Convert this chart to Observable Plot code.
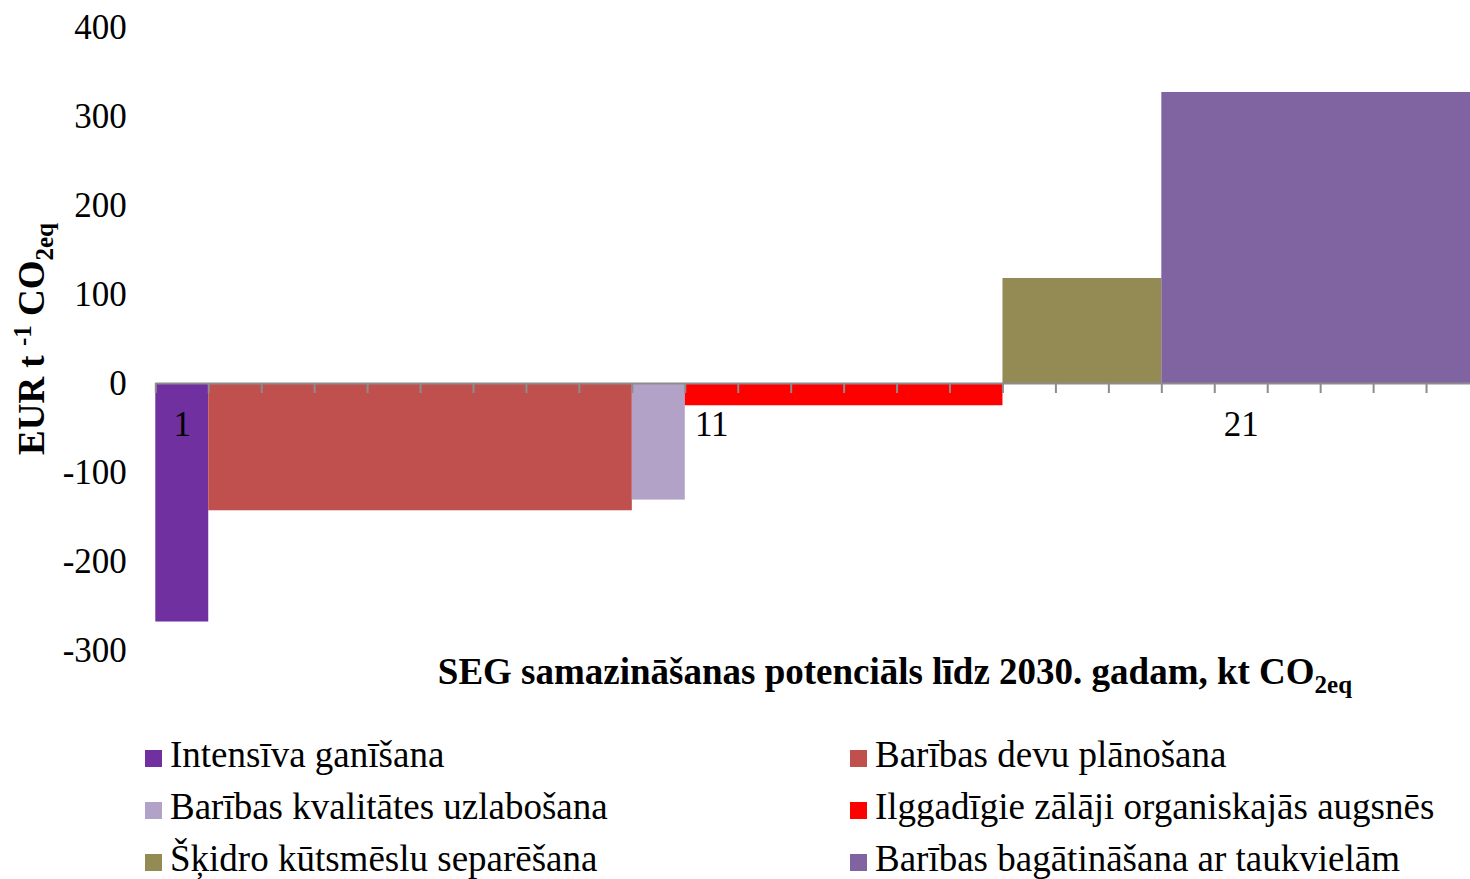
<!DOCTYPE html>
<html><head><meta charset="utf-8">
<script src="https://cdn.jsdelivr.net/npm/d3@7"></script>
<script src="https://cdn.jsdelivr.net/npm/@observablehq/plot@0.6"></script>
<style>
html,body{margin:0;padding:0;background:#fff;overflow:hidden;}
#legend{display:grid;grid-template-columns:705px auto;padding-left:145px;font-family:'Liberation Serif','Times New Roman',serif;font-size:37px;line-height:52px;color:#000;}
.item{display:flex;align-items:center;white-space:nowrap;}
.sw{width:17px;height:17px;margin-right:8px;position:relative;top:3px;flex:none;}
</style></head><body>
<div id="chart"></div><div id="legend"></div>
<script>
// Measures (in order along the curve)
const measures = [
  "Intensīva ganīšana",
  "Barības devu plānošana",
  "Barības kvalitātes uzlabošana",
  "Ilggadīgie zālāji organiskajās augsnēs",
  "Šķidro kūtsmēslu separēšana",
  "Barības bagātināšana ar taukvielām"
];
// abatement potential (width, kt CO2eq) and cost (EUR per t CO2eq)
const potentials = [1, 8, 1, 6, 3, 6];
const costs = [-268, -143, -131, -25, 118, 327];
const colors = ["#7030A0", "#C0504D", "#B3A2C7", "#FF0000", "#948A54", "#8064A2"];
const yTicks = [-300, -200, -100, 0, 100, 200, 300, 400];
const xTickLabels = [1, 11, 21];
const xTicks = d3.range(0, 26);
const xTitle = "SEG samazināšanas potenciāls līdz 2030. gadam, kt CO2eq";
const yTitle = "EUR t -1 CO2eq";

const ends = d3.cumsum(potentials);
const bars = measures.map((m, i) => ({measure: m, x1: ends[i] - potentials[i], x2: ends[i], cost: costs[i], color: colors[i]}));

const font = "'Liberation Serif','Times New Roman',serif";
const plot = Plot.plot({
  width: 1470, height: 729,
  marginLeft: 155.3, marginRight: -9, marginTop: 27, marginBottom: 79,
  style: {fontFamily: font, fontSize: "35px", color: "#000", background: "#fff", overflow: "hidden"},
  x: {domain: [0, 25], axis: null},
  y: {domain: [-300, 400], axis: null},
  color: {type: "identity"},
  marks: [
    Plot.rectY(bars, {x1: "x1", x2: "x2", y1: 0, y2: "cost", fill: "color"}),
    Plot.ruleY([0], {stroke: "#8c8c8c", strokeWidth: 2}),
    Plot.ruleX(xTicks, {x: d => d, y1: 0, y2: 0, insetBottom: -10, stroke: "#8c8c8c", strokeWidth: 2}),
    Plot.text(xTickLabels, {x: d => d - 0.5, y: 0, text: d => String(d), dy: 41, fontSize: 35, fill: "#000"}),
    Plot.axisY({ticks: yTicks, tickSize: 0, tickPadding: 29, fontSize: 35, tickFormat: d => String(d), label: null, fill: "#000"}),
    Plot.text([xTitle], {text: d => d, frameAnchor: "bottom-left", dx: 282, dy: 33, textAnchor: "start", lineAnchor: "bottom", fontSize: 37, fontWeight: "bold", fill: "#000"}),
    Plot.text([yTitle], {text: d => d, frameAnchor: "left", rotate: -90, dx: -112, dy: 0, textAnchor: "middle", lineAnchor: "bottom", fontSize: 37, fontWeight: "bold", fill: "#000"})
  ]
});
document.getElementById("chart").appendChild(plot);

plot.querySelectorAll("text").forEach(t => {
  if (t.textContent === yTitle) {
    t.innerHTML = 'EUR t <tspan dy="-13" font-size="25">-1</tspan><tspan dy="13"> CO</tspan><tspan dy="9" font-size="25">2eq</tspan>';
  } else if (t.textContent === xTitle) {
    t.innerHTML = 'SEG samazināšanas potenciāls līdz 2030. gadam, kt CO<tspan dy="9" font-size="25">2eq</tspan>';
  }
});

const legend = document.getElementById("legend");
measures.forEach((m, i) => {
  const it = document.createElement("div");
  it.className = "item";
  it.innerHTML = `<span class="sw" style="background:${colors[i]}"></span><span>${m}</span>`;
  legend.appendChild(it);
});
</script>
</body></html>
